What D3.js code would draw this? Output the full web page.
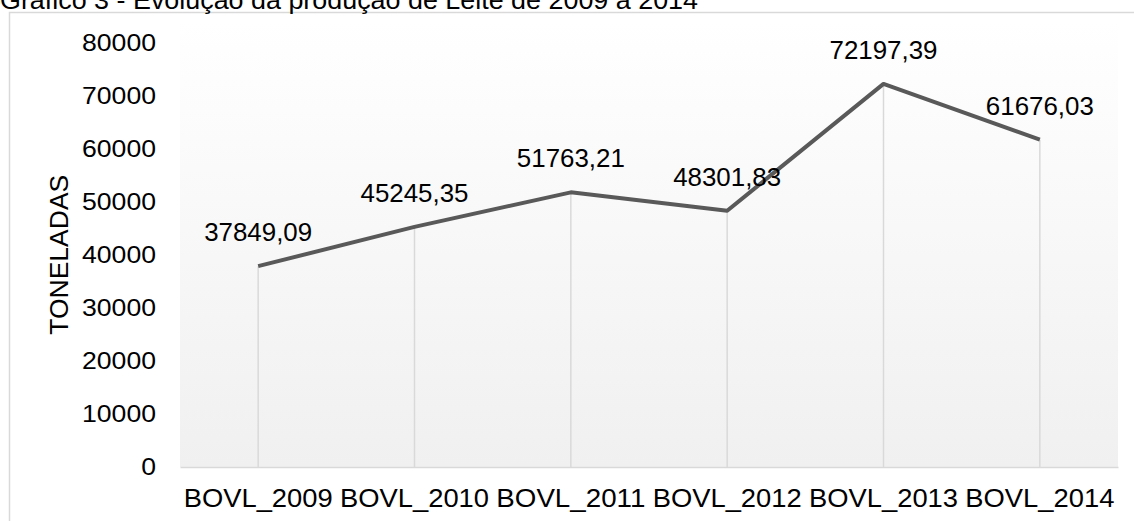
<!DOCTYPE html>
<html>
<head>
<meta charset="utf-8">
<script src="https://cdn.jsdelivr.net/npm/d3@7"></script>
<style>
  html, body { margin: 0; padding: 0; background: #fff; }
  svg { display: block; font-family: "Liberation Sans", Arial, sans-serif; }
</style>
</head>
<body>
<svg id="chart" width="1134" height="521"></svg>
<script>
const titleText = "Gráfico 3 - Evolução da produção de Leite de 2009 a 2014";
const yAxisTitle = "TONELADAS";
const categories = ["BOVL_2009", "BOVL_2010", "BOVL_2011", "BOVL_2012", "BOVL_2013", "BOVL_2014"];
const values = [37849.09, 45245.35, 51763.21, 48301.83, 72197.39, 61676.03];
const valueLabels = ["37849,09", "45245,35", "51763,21", "48301,83", "72197,39", "61676,03"];
const yTicks = [0, 10000, 20000, 30000, 40000, 50000, 60000, 70000, 80000];

const svg = d3.select("#chart");
const plot = { left: 180, right: 1118, top: 42.5, bottom: 467 };

const defs = svg.append("defs");
const grad = defs.append("linearGradient").attr("id", "bg").attr("x1", 0).attr("y1", 0).attr("x2", 0).attr("y2", 1);
grad.append("stop").attr("offset", "0%").attr("stop-color", "#ffffff");
grad.append("stop").attr("offset", "100%").attr("stop-color", "#f0f0f0");

// outer border
svg.append("rect").attr("x", 9.5).attr("y", 12.5).attr("width", 1140).attr("height", 520)
  .attr("fill", "#fff").attr("stroke", "#d9d9d9").attr("stroke-width", 1.5);

// title (partially cut at top, as in the reference)
svg.append("text").attr("x", 0).attr("y", 8.5).attr("font-size", 25).attr("fill", "#000")
  .attr("textLength", 698).attr("lengthAdjust", "spacingAndGlyphs").text(titleText);

const x = d3.scaleBand().domain(categories).range([plot.left, plot.right]).padding(0);
const y = d3.scaleLinear().domain([0, 80000]).range([plot.bottom, plot.top]);
const cx = c => x(c) + x.bandwidth() / 2;

// plot area background gradient
svg.append("rect").attr("x", plot.left).attr("y", 20).attr("width", plot.right - plot.left)
  .attr("height", plot.bottom - 20).attr("fill", "url(#bg)");

// drop lines
svg.append("g").selectAll("line").data(categories).join("line")
  .attr("x1", d => cx(d)).attr("x2", d => cx(d))
  .attr("y1", (d, i) => y(values[i])).attr("y2", plot.bottom)
  .attr("stroke", "#d9d9d9").attr("stroke-width", 1.5);

// y axis
const yAxis = svg.append("g").attr("transform", `translate(${plot.left},0)`)
  .call(d3.axisLeft(y).tickValues(yTicks).tickFormat(d3.format("d")).tickSize(0).tickPadding(24));
yAxis.select(".domain").remove();
yAxis.selectAll("text").attr("font-size", 24).attr("font-family", "Liberation Sans, Arial, sans-serif").attr("fill", "#000")
  .attr("textLength", d => String(d).length * 14.8).attr("lengthAdjust", "spacingAndGlyphs");

// x axis
const xAxis = svg.append("g").attr("transform", `translate(0,${plot.bottom})`)
  .call(d3.axisBottom(x).tickSize(0).tickPadding(22));
xAxis.select(".domain").attr("stroke", "#d9d9d9").attr("stroke-width", 1.5);
xAxis.selectAll("text").attr("font-size", 26).attr("font-family", "Liberation Sans, Arial, sans-serif").attr("fill", "#000")
  .attr("textLength", 149).attr("lengthAdjust", "spacingAndGlyphs");

// y axis title
svg.append("text").attr("transform", `translate(68,${(plot.top + plot.bottom) / 2}) rotate(-90)`)
  .attr("text-anchor", "middle").attr("font-size", 26).attr("fill", "#000")
  .attr("textLength", 160).attr("lengthAdjust", "spacingAndGlyphs").text(yAxisTitle);

// line
const line = d3.line().x((d, i) => cx(categories[i])).y(d => y(d));
svg.append("path").datum(values).attr("d", line).attr("fill", "none")
  .attr("stroke", "#595959").attr("stroke-width", 4).attr("stroke-linejoin", "round");

// data labels
svg.append("g").selectAll("text").data(values).join("text")
  .attr("x", (d, i) => cx(categories[i])).attr("y", d => y(d) - 25)
  .attr("text-anchor", "middle").attr("font-size", 26).attr("fill", "#000")
  .attr("textLength", 108).attr("lengthAdjust", "spacingAndGlyphs")
  .text((d, i) => valueLabels[i]);
</script>
</body>
</html>
